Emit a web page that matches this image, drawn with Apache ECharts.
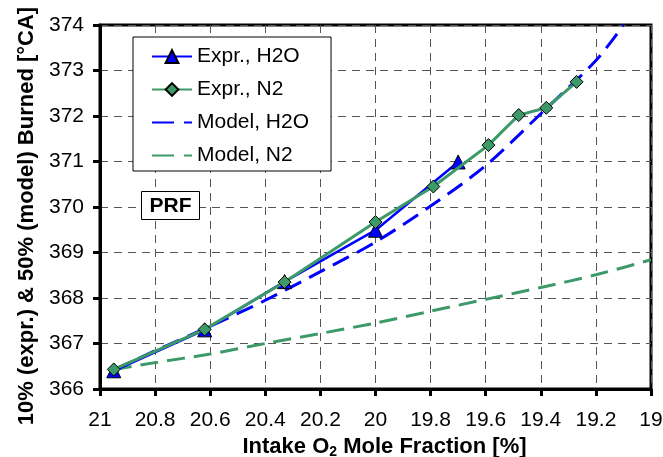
<!DOCTYPE html>
<html>
<head>
<meta charset="utf-8">
<script src="https://cdn.jsdelivr.net/npm/echarts@6/dist/echarts.min.js"></script>
<style>html,body{margin:0;padding:0;background:#fff}#c{width:663px;height:457px}</style>
</head>
<body>
<div id="c"></div>
<script>
// O2 mole fraction [%] and burn angle [°CA]
const exprH2O_x = [20.95, 20.62, 20.33, 20.00, 19.70];
const exprH2O_y = [366.40, 367.30, 368.36, 369.49, 370.99];
const exprN2_x = [20.95, 20.62, 20.33, 20.00, 19.79, 19.59, 19.48, 19.38, 19.27];
const exprN2_y = [366.43, 367.31, 368.35, 369.67, 370.45, 371.36, 372.02, 372.18, 372.75];
const modelH2O_x = [20.95, 20.8, 20.6, 20.4, 20.2, 20.0, 19.8, 19.6, 19.4, 19.2, 19.1];
const modelH2O_y = [366.42, 366.84, 367.38, 367.95, 368.58, 369.23, 370.02, 370.91, 372.05, 373.22, 374.0];
const modelN2_x = [20.95, 20.8, 20.6, 20.4, 20.2, 20.0, 19.8, 19.6, 19.4, 19.2, 19.0];
const modelN2_y = [366.43, 366.58, 366.77, 367.00, 367.22, 367.45, 367.71, 367.97, 368.23, 368.51, 368.84];
const seriesNames = ['Expr., H2O', 'Expr., N2', 'Model, H2O', 'Model, N2'];

const zip = (xs, ys) => xs.map((x, i) => [x, ys[i]]);
const BLUE = '#0000ff', GREEN = '#3c9a68';
const FONT = 'Liberation Sans';

const chart = echarts.init(document.getElementById('c'));
chart.setOption({
  animation: false,
  backgroundColor: '#fff',
  grid: { left: 100, right: 12, top: 25, bottom: 68, show: true, borderColor: '#000', borderWidth: 3,
    containLabel: false, outerBoundsMode: 'none' },
  xAxis: {
    type: 'value', inverse: true, min: 19, max: 21, interval: 0.2,
    name: 'Intake O{sub|2} Mole Fraction [%]', nameLocation: 'middle', nameGap: 46,
    nameTextStyle: { fontFamily: FONT, fontSize: 22, fontWeight: 'bold', color: '#000', padding: [0, 0, 0, 18],
      rich: { sub: { fontFamily: FONT, fontSize: 14, fontWeight: 'bold', padding: [10, 0, 0, 0], color: '#000' } } },
    axisLine: { onZero: false, lineStyle: { color: '#000', width: 3 } },
    axisTick: { inside: false, length: 7, lineStyle: { color: '#000', width: 3 } },
    axisLabel: { margin: 21, fontFamily: FONT, fontSize: 21, color: '#000',
      formatter: v => String(Math.round(v * 10) / 10) },
    splitLine: { show: true, lineStyle: { color: '#555', width: 1, type: [8, 6] } }
  },
  yAxis: {
    type: 'value', min: 366, max: 374, interval: 1,
    name: '10% (expr.) & 50% (model) Burned [°CA]', nameLocation: 'middle', nameGap: 60,
    nameTextStyle: { fontFamily: FONT, fontSize: 22, fontWeight: 'bold', color: '#000', padding: [0, 18, 0, 0] },
    axisLine: { onZero: false, lineStyle: { color: '#000', width: 3 } },
    axisTick: { inside: false, length: 7, lineStyle: { color: '#000', width: 3 } },
    axisLabel: { margin: 16, fontFamily: FONT, fontSize: 21, color: '#000' },
    splitLine: { show: true, lineStyle: { color: '#555', width: 1, type: [8, 6] } }
  },
  legend: {
    orient: 'vertical', left: 133, top: 37,
    data: [
      { name: seriesNames[0] },
      { name: seriesNames[1] },
      { name: seriesNames[2], itemStyle: { opacity: 0 }, lineStyle: { type: [22, 10] } },
      { name: seriesNames[3], itemStyle: { opacity: 0 }, lineStyle: { type: [22, 10] } }
    ],
    backgroundColor: '#fff', borderColor: '#000', borderWidth: 1,
    padding: [9, 22, 5, 18], itemGap: 12, itemWidth: 40, itemHeight: 16,
    textStyle: { fontFamily: FONT, fontSize: 21, color: '#000' }
  },
  graphic: [
    { type: 'rect', shape: { x: 141.5, y: 191.5, width: 58, height: 28 },
      style: { fill: '#fff', stroke: '#000', lineWidth: 1 }, z: 100 },
    { type: 'text', x: 170.5, y: 206, z: 101,
      style: { text: 'PRF', font: 'bold 21px "Liberation Sans"', fill: '#000', align: 'center', verticalAlign: 'middle' } }
  ],
  series: [
    { name: seriesNames[3], type: 'line', data: zip(modelN2_x, modelN2_y), smooth: 0.3, symbol: 'none',
      lineStyle: { color: GREEN, width: 3, type: [18, 9] }, itemStyle: { color: GREEN }, z: 2 },
    { name: seriesNames[2], type: 'line', data: zip(modelH2O_x, modelH2O_y), smooth: 0.3, symbol: 'none',
      lineStyle: { color: BLUE, width: 3, type: [18, 9] }, itemStyle: { color: BLUE }, z: 3 },
    { name: seriesNames[0], type: 'line', data: zip(exprH2O_x, exprH2O_y), symbol: 'triangle', symbolSize: 14,
      lineStyle: { color: BLUE, width: 2.5 }, itemStyle: { color: BLUE, borderColor: '#000', borderWidth: 1 }, z: 4 },
    { name: seriesNames[1], type: 'line', data: zip(exprN2_x, exprN2_y), symbol: 'diamond', symbolSize: 13,
      lineStyle: { color: GREEN, width: 3 }, itemStyle: { color: GREEN, borderColor: '#000', borderWidth: 1 }, z: 5 }
  ]
});
</script>
</body>
</html>
